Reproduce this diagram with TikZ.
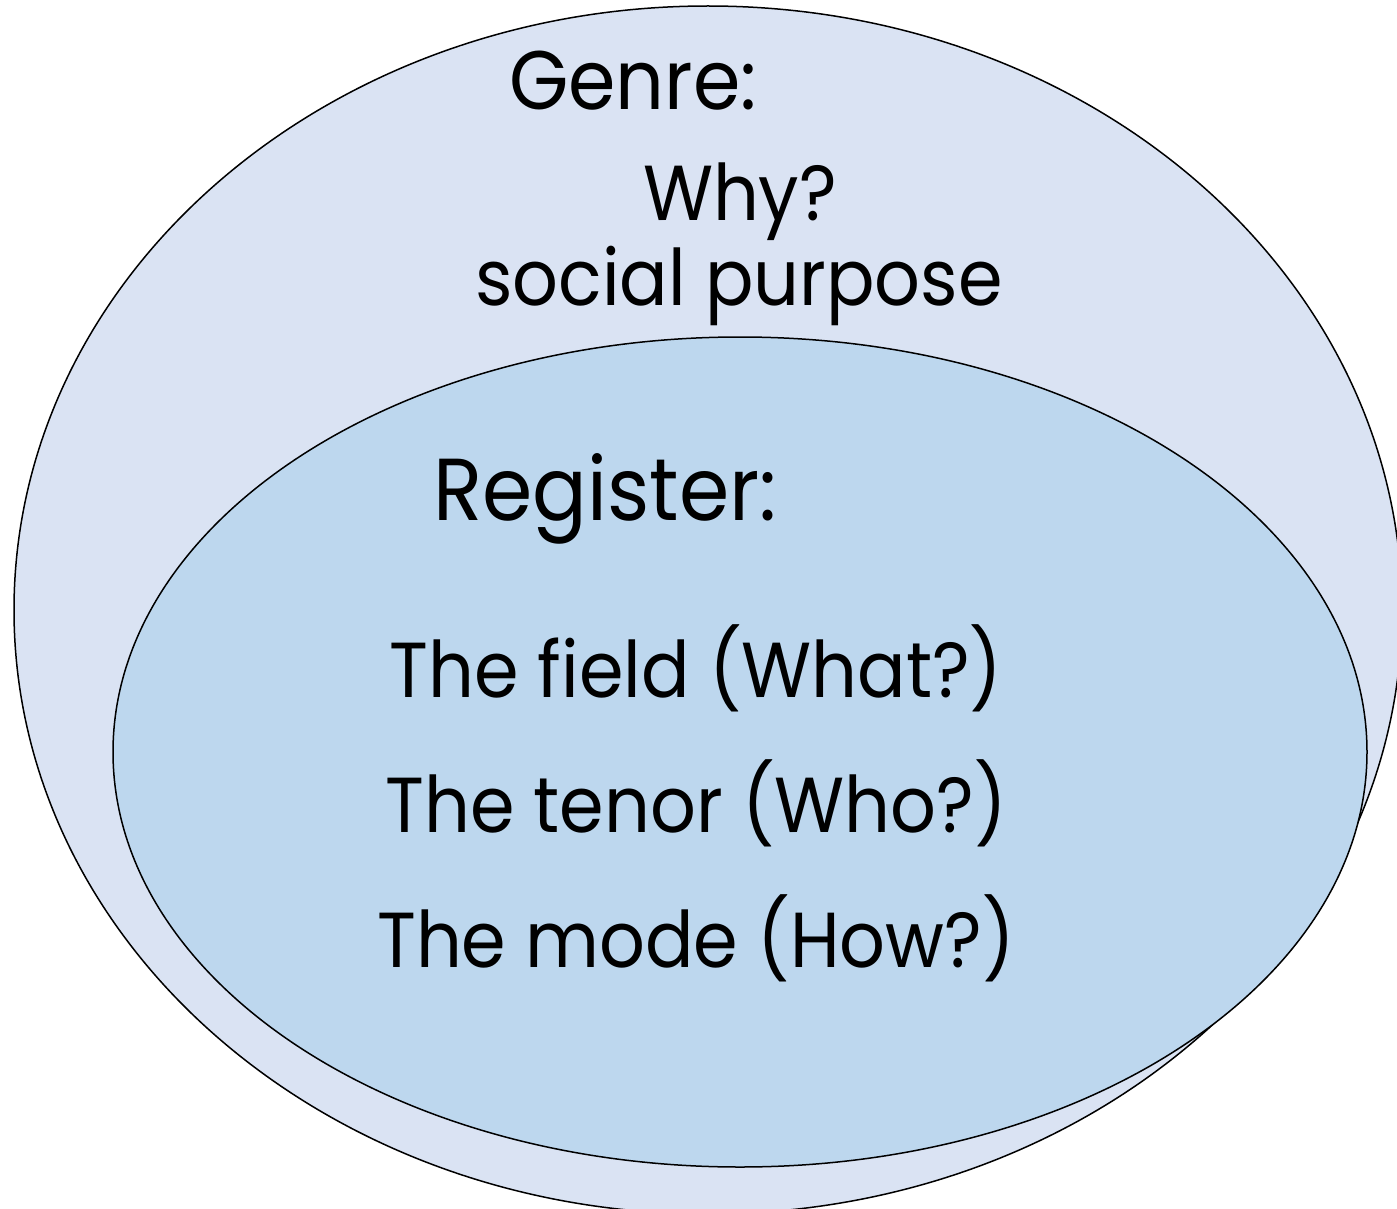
\documentclass[tikz,border=0pt]{standalone}
\usepackage{fontspec}
\setmainfont[FakeStretch=0.92]{Poppins}
\begin{document}
\begin{tikzpicture}[x=1pt,y=-1pt,
    blob/.style={draw=black, line width=1.5pt},
    txt/.style={anchor=base, font=\fontsize{78}{80}\selectfont},
    bigtxt/.style={anchor=base, font=\fontsize{88}{90}\selectfont}]
  % page
  \clip (0,0) rectangle (1397,1209);
  % ellipses
  \draw[blob, fill={rgb,255:red,218;green,227;blue,243}] (708,610) ellipse (694 and 604);
  \draw[blob, fill={rgb,255:red,189;green,215;blue,238}] (740,752) ellipse (627 and 415);
  % genre
  \node[txt, font=\fontsize{83}{85}\selectfont] (genre) at (633,110) {Genre:};
  \node[txt] (why) at (740,220) {Why?};
  \node[txt] (purpose) at (739,305) {social purpose};
  % register
  \node[bigtxt] (register) at (605,520) {Register:};
  \node[txt] (field) at (696,697) {The field (What?)};
  \node[txt] (tenor) at (696,832) {The tenor (Who?)};
  \node[txt] (mode) at (696,967) {The mode (How?)};
\end{tikzpicture}
\end{document}
